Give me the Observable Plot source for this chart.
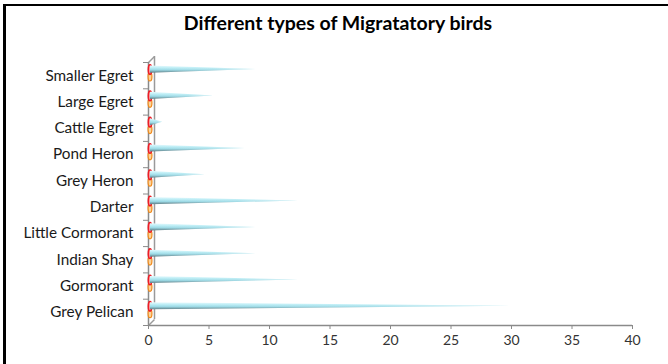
<!DOCTYPE html>
<html>
<head>
<meta charset="utf-8">
<script src="https://cdn.jsdelivr.net/npm/d3@7"></script>
<script src="https://cdn.jsdelivr.net/npm/@observablehq/plot@0.6"></script>
<style>
  html, body { margin: 0; padding: 0; background: #fff; }
  body { width: 668px; height: 364px; position: relative; overflow: hidden; font-family: Lato, "Open Sans", sans-serif; }
  #frame { position: absolute; left: 3px; top: 4px; right: -5px; bottom: -5px; border-top: 2px solid #000; border-left: 3px solid #000; }
  #title { position: absolute; left: 0; width: 676px; top: 11px; text-align: center; font-weight: bold; font-size: 19.5px; color: #000; }
  #chart { position: absolute; left: 0; top: 0; }
  #defs { position: absolute; width: 0; height: 0; }
</style>
</head>
<body>
<svg id="defs" width="0" height="0">
  <defs>
    <linearGradient id="coneGrad" x1="0" y1="0" x2="0" y2="1">
      <stop offset="0" stop-color="#e8fafd"/>
      <stop offset="0.3" stop-color="#bdeef6"/>
      <stop offset="0.62" stop-color="#9ad9e5"/>
      <stop offset="1" stop-color="#5f7e86"/>
    </linearGradient>
    <linearGradient id="fadeGrad" x1="0" y1="0" x2="1" y2="0">
      <stop offset="0" stop-color="#fff" stop-opacity="0"/>
      <stop offset="0.6" stop-color="#fff" stop-opacity="0.12"/>
      <stop offset="1" stop-color="#fff" stop-opacity="0.6"/>
    </linearGradient>
  </defs>
</svg>
<div id="frame"></div>
<div id="title">Different types of Migratatory birds</div>
<div id="chart"></div>
<script>
// Categories listed bottom to top (as in the chart's category order)
const birds = ["Grey Pelican", "Gormorant", "Indian Shay", "Little Cormorant", "Darter",
               "Grey Heron", "Pond Heron", "Cattle Egret", "Large Egret", "Smaller Egret"];
const counts = [30, 12.2, 8.7, 8.7, 12.2, 4.5, 7.8, 1, 5.2, 8.7];   // main series (cones)
const counts2 = [0, 0, 0, 0, 0, 0, 0, 0, 0, 0];                     // second series (zero)
const xTicks = [0, 5, 10, 15, 20, 25, 30, 35, 40];

const coneOffset = 0.23, coneHalf = 0.135, series2Offset = -0.04;

// cone geometry built from the values: base at 0, tip at value
const cones = birds.flatMap((name, i) => [
  {name, x: 0, y1: i + coneOffset - coneHalf, y2: i + coneOffset + coneHalf},
  {name, x: counts[i], y1: i + coneOffset, y2: i + coneOffset}
]);
const bases = birds.map((name, i) => ({name, x: 0, y: i + coneOffset}));
const second = birds.map((name, i) => ({name, x: counts2[i], y: i + series2Offset}));

const ellipse = (sx, sy) => ({
  draw(ctx, size) {
    const r = Math.sqrt(size / Math.PI), rx = r * sx, ry = r * sy, k = 0.5523;
    ctx.moveTo(0, -ry);
    ctx.bezierCurveTo(k * rx, -ry, rx, -k * ry, rx, 0);
    ctx.bezierCurveTo(rx, k * ry, k * rx, ry, 0, ry);
    ctx.bezierCurveTo(-k * rx, ry, -rx, k * ry, -rx, 0);
    ctx.bezierCurveTo(-rx, -k * ry, -k * rx, -ry, 0, -ry);
    ctx.closePath();
  }
});
const diag = {
  draw(ctx, size) {
    const r = Math.sqrt(size / Math.PI);
    ctx.moveTo(0, 0);
    ctx.lineTo(r, -r);
  }
};

const chart = Plot.plot({
  width: 668,
  height: 364,
  marginTop: 62,
  marginBottom: 39,
  marginLeft: 148,
  marginRight: 36,
  style: {fontFamily: "Lato, 'Open Sans', sans-serif", background: "transparent"},
  x: {domain: [0, 40], label: null},
  y: {domain: [-0.5, 9.5], label: null},
  marks: [
    // 3D back wall edge
    Plot.ruleX([0], {stroke: "#9a9a9a", strokeWidth: 1.5, dx: 6, dy: -6}),
    Plot.dot([{x: 0, y: 9.5}, {x: 0, y: -0.5}], {x: "x", y: "y", symbol: diag, r: 6, stroke: "#9a9a9a", strokeWidth: 1.5, fill: "none"}),
    // front axis lines
    Plot.ruleX([0], {stroke: "#8a8a8a", strokeWidth: 1.5}),
    Plot.ruleY([-0.5], {stroke: "#8a8a8a", strokeWidth: 1.5}),
    Plot.axisY({ticks: d3.range(-0.5, 10, 1), tickFormat: () => "", tickSize: 5, stroke: "#8a8a8a", label: null}),
    Plot.axisY({ticks: d3.range(0, 10), tickFormat: i => birds[i], tickSize: 0, tickPadding: 15, fontSize: 15.3, color: "#1a1a1a", label: null}),
    Plot.axisX({ticks: xTicks, tickSize: 4, tickPadding: 6, fontSize: 14, color: "#333", stroke: "#8a8a8a", label: null}),
    // second series (zero values)
    Plot.dot(second, {x: "x", y: "y", dx: 1.5, symbol: ellipse(0.45, 1), r: 4.3, stroke: "#f08a1c", fill: "#fbd39a", strokeWidth: 1.2}),
    // cone base rim
    Plot.dot(bases, {x: "x", y: "y", dx: 1.5, symbol: ellipse(0.35, 1), r: 4.8, stroke: "#ee1c25", fill: "#f6b0b0", strokeWidth: 1.6}),
    // cones
    Plot.areaY(cones, {x: "x", y1: "y1", y2: "y2", z: "name", fill: "url(#coneGrad)", dx: 2}),
    Plot.areaY(cones, {x: "x", y1: "y1", y2: "y2", z: "name", fill: "url(#fadeGrad)", dx: 2})
  ]
});
document.getElementById("chart").appendChild(chart);
</script>
</body>
</html>
